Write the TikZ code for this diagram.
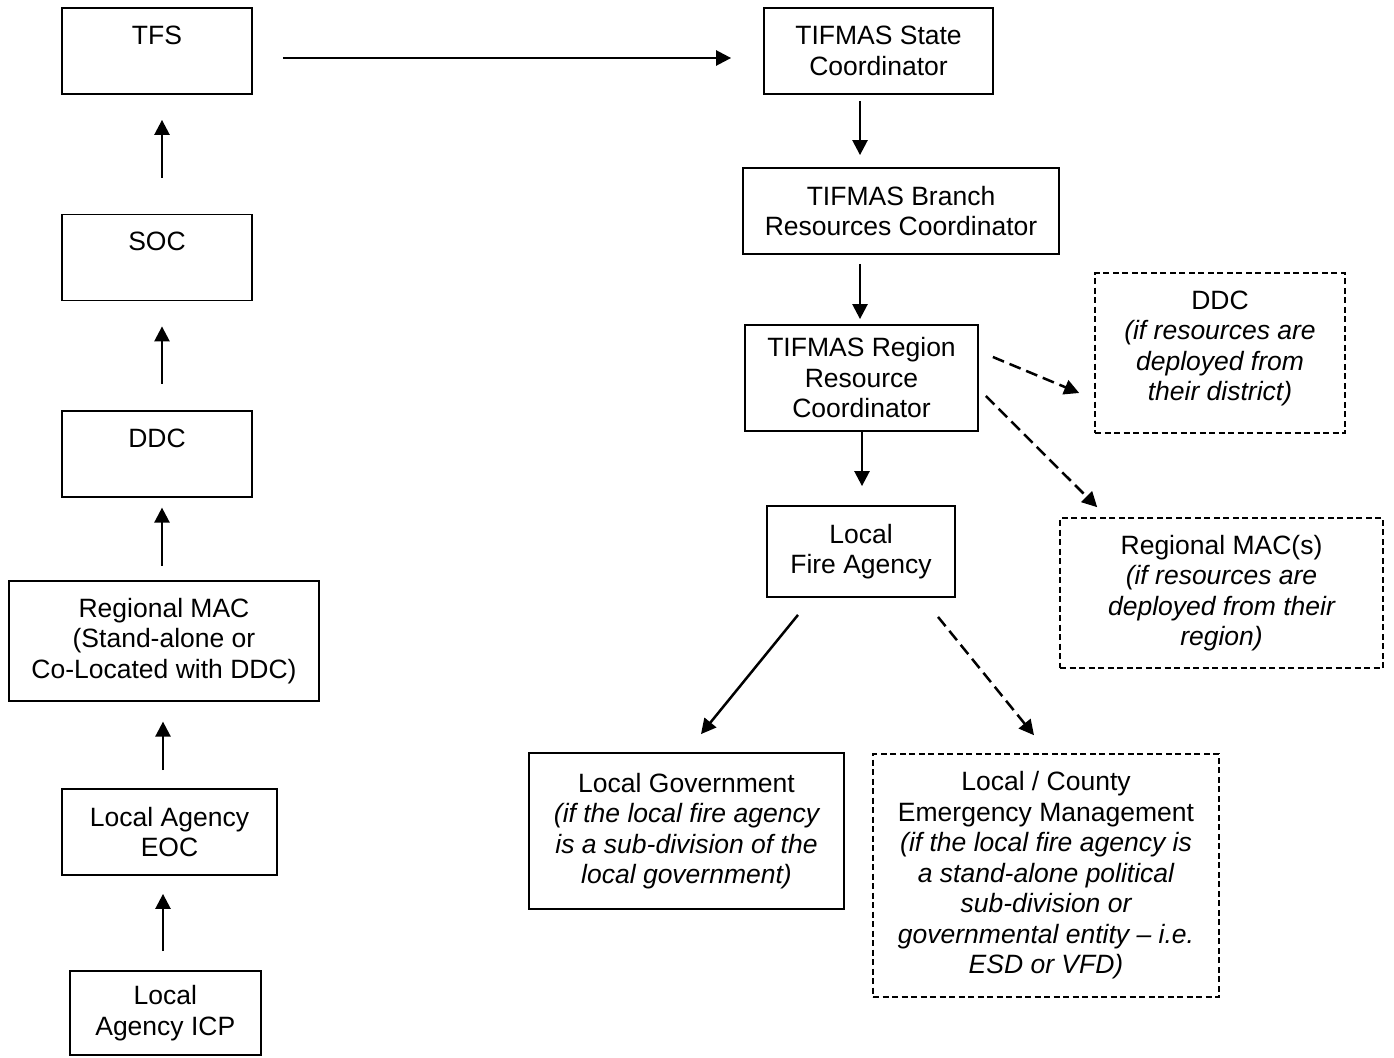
\documentclass[tikz,border=0pt]{standalone}
\usepackage{fontspec}
\setmainfont{Liberation Sans}
\usetikzlibrary{arrows.meta}
\tikzset{
  box/.style={draw, line width=1.8pt, rectangle, inner sep=0pt, align=center,
    font=\fontsize{26.5}{30.5}\selectfont},
  dbox/.style={box, line width=1.6pt, dash pattern=on 6pt off 3.5pt},
  arr/.style={line width=2.5pt, -{Triangle[length=15pt,width=15pt]}},
  darr/.style={arr, dash pattern=on 12pt off 6pt},
}
\begin{document}
\begin{tikzpicture}[x=1pt,y=-1pt]
\useasboundingbox (0,0) rectangle (1394,1057);
% left column
\node[box, minimum width=190pt, minimum height=86pt] (tfs) at (157,51) {TFS\\[-8pt]\strut};
\node[box, minimum width=190pt, minimum height=86pt] (soc) at (157,257.5) {SOC\\[-8pt]\strut};
\node[box, minimum width=190pt, minimum height=86pt] (ddcl) at (157,453.7) {DDC\\[-8pt]\strut};
\node[box, minimum width=310pt, minimum height=120pt] (rmac) at (164,640.7) {Regional MAC\\(Stand-alone or\\Co-Located with DDC)};
\node[box, minimum width=215pt, minimum height=86pt] (eoc) at (169.5,832) {Local Agency\\EOC};
\node[box, minimum width=191pt, minimum height=84pt] (icp) at (165.3,1013) {Local\\Agency ICP};
% right column
\node[box, minimum width=229pt, minimum height=86pt] (state) at (878.5,51) {TIFMAS State\\Coordinator};
\node[box, minimum width=316pt, minimum height=86pt] (branch) at (901,211) {TIFMAS Branch\\Resources Coordinator};
\node[box, minimum width=233pt, minimum height=106pt] (region) at (861.5,378) {TIFMAS Region\\Resource\\Coordinator};
\node[box, minimum width=188pt, minimum height=91pt] (lfa) at (861,551.5) {Local\\Fire Agency};
\node[dbox, minimum width=250pt, minimum height=160pt] (ddcr) at (1220,353) {DDC\\\itshape(if resources are\\\itshape deployed from\\\itshape their district)\\[-25pt]\strut};
\node[dbox, minimum width=323pt, minimum height=150pt] (rmacs) at (1221.5,593) {Regional MAC(s)\\\itshape(if resources are\\\itshape deployed from their\\\itshape region)};
\node[box, minimum width=315pt, minimum height=156pt] (lgov) at (686.5,831) {Local Government\\\itshape(if the local fire agency\\\itshape is a sub-division of the\\\itshape local government)};
\node[dbox, minimum width=346pt, minimum height=243pt] (lcem) at (1046,875.5) {Local / County\\Emergency Management\\\itshape(if the local fire agency is\\\itshape a stand-alone political\\\itshape sub-division or\\\itshape governmental entity -- i.e.\\\itshape ESD or VFD)};
% left arrows
\draw[arr] ([xshift=5pt,yshift=36pt]soc.north) -- ([xshift=5pt,yshift=-25pt]tfs.south);
\draw[arr] ([xshift=5pt,yshift=26pt]ddcl.north) -- ([xshift=5pt,yshift=-25pt]soc.south);
\draw[arr] ([xshift=5pt,yshift=14pt]rmac.north west -| ddcl.north) -- ([xshift=5pt,yshift=-10pt]ddcl.south);
\draw[arr] ([xshift=-6.5pt,yshift=18pt]eoc.north) -- ([xshift=-1pt,yshift=-20pt]rmac.south);
\draw[arr] ([xshift=-2.3pt,yshift=19pt]icp.north) -- ([xshift=-6.5pt,yshift=-18pt]eoc.south);
% top horizontal
\draw[arr] ([xshift=30pt,yshift=-7pt]tfs.east) -- ([xshift=-32pt,yshift=-7pt]state.west);
% right arrows
\draw[arr] ([xshift=-18.5pt,yshift=-6pt]state.south) -- ([xshift=-41pt,yshift=12pt]branch.north);
\draw[arr] ([xshift=-41pt,yshift=-9pt]branch.south) -- ([xshift=-1.5pt,yshift=5pt]region.north);
\draw[arr] ([xshift=0.5pt]region.south) -- ([xshift=1pt,yshift=19pt]lfa.north);
\draw[darr] ([xshift=14pt,yshift=21pt]region.east) -- ([xshift=-15pt,yshift=-40pt]ddcr.west);
\draw[darr] ([xshift=7pt,yshift=-18pt]region.east) -- ([xshift=38pt,yshift=10pt]rmacs.north west);
\draw[arr] ([xshift=-63pt,yshift=-17pt]lfa.south) -- ([xshift=14.5pt,yshift=18pt]lgov.north);
\draw[darr] ([xshift=77pt,yshift=-19pt]lfa.south) -- ([xshift=-12pt,yshift=18pt]lcem.north);
\end{tikzpicture}
\end{document}
